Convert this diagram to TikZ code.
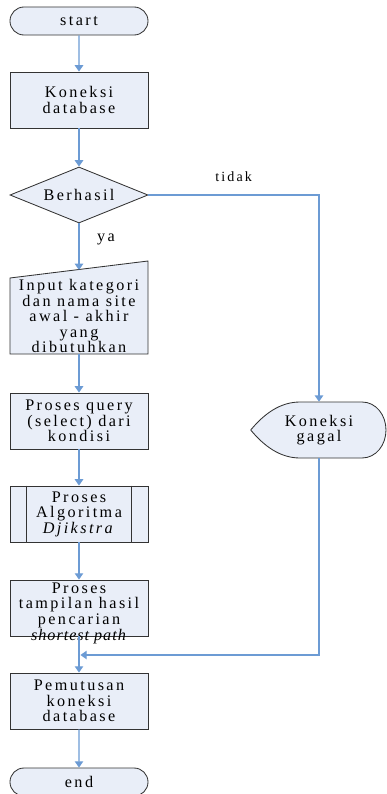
\documentclass[tikz,border=0pt]{standalone}
\usepackage{fontspec}
\setmainfont{Liberation Serif}[LetterSpace=15]
\usetikzlibrary{shapes.geometric,shapes.misc,arrows.meta}
\definecolor{flowfill}{RGB}{233,238,248}
\definecolor{flowline}{RGB}{108,155,212}

\begin{document}
\begin{tikzpicture}[x=0.025cm,y=-0.025cm,
  txt/.style={align=center,font=\fontsize{11.5}{11}\selectfont,inner sep=0pt},
  box/.style={txt,draw=black!80,line width=0.6pt,fill=flowfill,minimum width=3.45cm,minimum height=1.4cm},
  term/.style={box,rounded rectangle,minimum height=0.7cm},
  outline/.style={draw=black!80,line width=0.6pt,fill=flowfill},
  link/.style={draw=flowline,line width=1pt},
  arr/.style={link,-{Triangle[width=6pt,length=4.5pt]}}]

\useasboundingbox (0,0) rectangle (387,794);

% main column
\node[term] (start) at (79,21) {start};
\node[box] (kon) at (79,100) {Koneksi\\database};
\node[box,diamond,aspect=2.46] (cek) at (79,195) {Berhasil};

\draw[outline] (10,354) -- (10,278) -- (148,261) -- (148,354) -- cycle;
\node[txt] (inp) at (79,316) {Input kategori\\dan nama site\\awal - akhir\\yang\\dibutuhkan};
\coordinate (inptop) at (79,270);
\coordinate (inpbot) at (79,354);

\node[box] (qry) at (79,421) {Proses query\\(select) dari\\kondisi};
\node[box] (alg) at (79,514) {Proses\\Algoritma\\\textit{Djikstra}};
\draw[outline] ([xshift=0.425cm]alg.north west) -- ([xshift=0.425cm]alg.south west);
\draw[outline] ([xshift=-0.425cm]alg.north east) -- ([xshift=-0.425cm]alg.south east);
\node[box] (tam) at (79,608) {\smash{\raisebox{-7pt}{\begin{tabular}{@{}c@{}}Proses\\tampilan hasil\\pencarian\\{\addfontfeature{LetterSpace=6}\textit{shortest path}}\end{tabular}}}};
\coordinate (gab) at (79,655);
\node[box] (put) at (79,701) {Pemutusan\\koneksi\\database};
\node[term] (ende) at (79,782) {end};

% branch tidak
\node[txt,minimum width=3.4cm,minimum height=1.4cm] (gagal) at (319,430) {};
\draw[outline] (gagal.west) .. controls (264,414) and (280,402) .. (300,402) -- (362,402)
  .. controls (376,402) and (386,415) .. (386,430) .. controls (386,445) and (376,458) .. (362,458)
  -- (300,458) .. controls (280,458) and (264,446) .. (gagal.west);
\node[txt] at (gagal) {Koneksi\\gagal};

% connectors
\draw[arr] (start) -- (kon);
\draw[arr] (kon) -- (cek);
\draw[arr] (cek) -- (inptop);
\node[txt] (ya) at (106,239) {ya};
\draw[arr] (cek.east) -| (gagal.north) node[pos=0.25,above=6pt] {tidak};
\draw[arr] (inpbot) -- (qry);
\draw[arr] (qry) -- (alg);
\draw[arr] (alg) -- (tam);
\draw[link] (tam) -- (gab);
\draw[arr] (gab) -- (put);
\draw[arr,shorten >=1pt] (gagal.south) |- (gab);
\draw[arr] (put) -- (ende);

\end{tikzpicture}
\end{document}
